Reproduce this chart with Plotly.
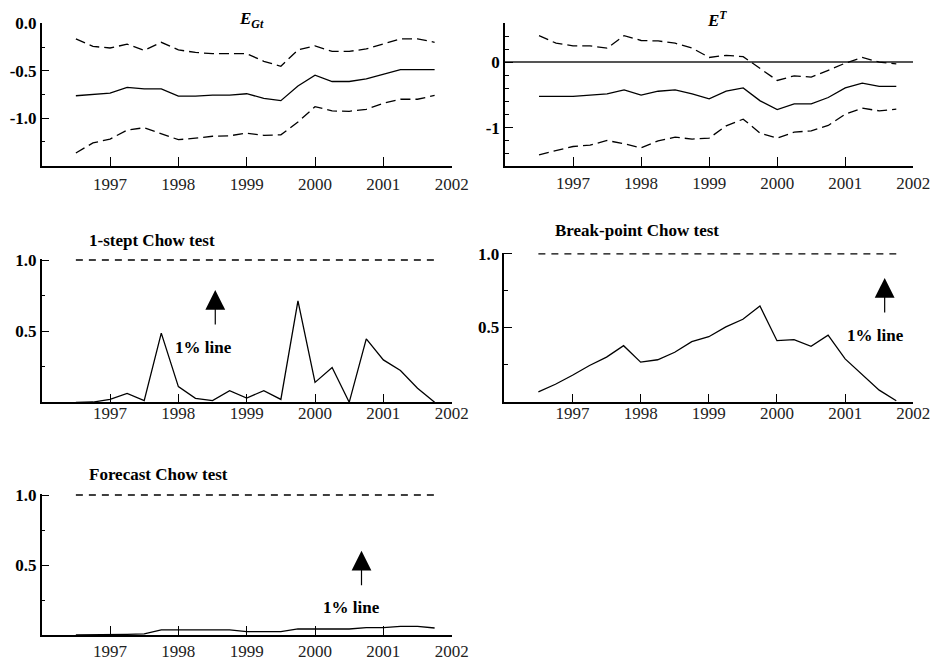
import plotly.graph_objects as go

# ---------------- data ----------------
quarters = [1996.5, 1996.75, 1997.0, 1997.25, 1997.5, 1997.75, 1998.0, 1998.25,
            1998.5, 1998.75, 1999.0, 1999.25, 1999.5, 1999.75, 2000.0, 2000.25,
            2000.5, 2000.75, 2001.0, 2001.25, 2001.5, 2001.75]

egt_mid = [-0.763, -0.75, -0.735, -0.676, -0.69, -0.69, -0.767, -0.767, -0.756, -0.756, -0.742,
           -0.79, -0.815, -0.66, -0.547, -0.613, -0.613, -0.585, -0.537, -0.488, -0.488, -0.488]
egt_up = [-0.164, -0.244, -0.26, -0.22, -0.286, -0.20, -0.28, -0.307, -0.32, -0.32, -0.32,
          -0.40, -0.453, -0.28, -0.237, -0.296, -0.296, -0.27, -0.216, -0.164, -0.164, -0.20]
egt_lo = [-1.366, -1.26, -1.22, -1.125, -1.10, -1.167, -1.226, -1.21, -1.19, -1.185, -1.157,
          -1.18, -1.175, -1.04, -0.878, -0.923, -0.927, -0.906, -0.843, -0.80, -0.80, -0.76]

et_mid = [-0.52, -0.52, -0.52, -0.50, -0.48, -0.42, -0.50, -0.44, -0.42, -0.48, -0.556,
          -0.44, -0.39, -0.587, -0.72, -0.633, -0.633, -0.536, -0.39, -0.316, -0.367, -0.367]
et_up = [0.41, 0.296, 0.255, 0.255, 0.22, 0.41, 0.337, 0.33, 0.296, 0.22, 0.077,
         0.11, 0.09, -0.087, -0.275, -0.204, -0.224, -0.12, -0.01, 0.077, 0.005, -0.02]
et_lo = [-1.413, -1.347, -1.286, -1.265, -1.194, -1.245, -1.306, -1.20, -1.143, -1.173, -1.158,
         -0.97, -0.867, -1.082, -1.158, -1.066, -1.046, -0.964, -0.79, -0.70, -0.74, -0.714]

chow_1step = [0.0, 0.002, 0.02, 0.063, 0.012, 0.486, 0.11, 0.028, 0.012, 0.082, 0.03,
              0.082, 0.02, 0.713, 0.14, 0.244, 0.0, 0.446, 0.298, 0.223, 0.099, 0.0]
chow_breakpoint = [0.06, 0.112, 0.173, 0.24, 0.297, 0.375, 0.263, 0.279, 0.33, 0.402, 0.436,
                   0.503, 0.555, 0.645, 0.409, 0.416, 0.371, 0.447, 0.285, 0.178, 0.072, 0.0]
chow_forecast = [0.0, 0.0, 0.0, 0.005, 0.008, 0.036, 0.036, 0.036, 0.036, 0.036, 0.024,
                 0.024, 0.024, 0.043, 0.043, 0.043, 0.043, 0.052, 0.052, 0.062, 0.062, 0.05]
critical_1pct = [1.0, 1.0]          # 1% critical value (scaled), at first and last quarter

year_ticks = [1997, 1998, 1999, 2000, 2001, 2002]
year_labels = ["1997", "1998", "1999", "2000", "2001", "2002"]

# ---------------- style ----------------
FONT = "Liberation Serif, Times New Roman, Times, serif"
W, H = 940, 660
OFF = 8          # page body margin offset
solid = dict(color="black", width=1.3)
band = dict(color="black", width=1.3, dash="10px,5px")
crit = dict(color="black", width=1.3, dash="7px,6px")

fig = go.Figure()

def add(x, y, line, xa, ya):
    fig.add_trace(go.Scatter(x=x, y=y, mode="lines", line=line, xaxis=xa, yaxis=ya,
                             showlegend=False, hoverinfo="skip"))

# panel 1: E_Gt
add(quarters, egt_up, band, "x", "y")
add(quarters, egt_mid, solid, "x", "y")
add(quarters, egt_lo, band, "x", "y")
# panel 2: E^T
add(quarters, et_up, band, "x2", "y2")
add(quarters, et_mid, solid, "x2", "y2")
add(quarters, et_lo, band, "x2", "y2")
# panel 3: 1-step Chow
add([quarters[0], quarters[-1]], critical_1pct, crit, "x3", "y3")
add(quarters, chow_1step, solid, "x3", "y3")
# panel 4: break-point Chow
add([quarters[0], quarters[-1]], critical_1pct, crit, "x4", "y4")
add(quarters, chow_breakpoint, solid, "x4", "y4")
# panel 5: forecast Chow
add([quarters[0], quarters[-1]], critical_1pct, crit, "x5", "y5")
add(quarters, chow_forecast, solid, "x5", "y5")

def fx(a):
    return (a - OFF) / W

def fy(t):
    return 1 - (t - OFF) / H

def px_x(a, b):
    return [fx(a), fx(b)]

def px_y(top, bottom):
    return [fy(bottom), fy(top)]

def xaxis(domain, anchor, standoff):
    return dict(domain=domain, anchor=anchor, range=[1996, 2002], tickmode="array",
                tickvals=year_ticks, ticktext=year_labels, ticks="inside", ticklen=9,
                tickwidth=1.3, tickcolor="black", showline=True, linecolor="black",
                linewidth=1.5, showgrid=False, zeroline=False, automargin=False,
                ticklabelstandoff=standoff,
                tickfont=dict(family=FONT, size=17, color="#222"))

def yaxis(domain, anchor, rng, tv, tt, minor_vals):
    return dict(domain=domain, anchor=anchor, range=rng, tickmode="array",
                tickvals=tv, ticktext=tt, ticks="inside", ticklen=8, tickwidth=1.3,
                tickcolor="black", showline=True, linecolor="black", linewidth=1.5,
                showgrid=False, zeroline=False, automargin=False,
                minor=dict(tickmode="array", tickvals=minor_vals, ticks="inside",
                           ticklen=4, tickwidth=1.2, tickcolor="black", showgrid=False),
                tickfont=dict(family=FONT, size=17, color="black", weight="bold"))

LX = px_x(41.7, 451.7)
RX = px_x(505, 913.3)

layout = dict(
    template="none",
    width=W, height=H, autosize=False,
    margin=dict(l=0, r=0, t=0, b=0, pad=0),
    paper_bgcolor="white", plot_bgcolor="white",
    showlegend=False,
    xaxis=xaxis(LX, "y", 2),
    yaxis=yaxis(px_y(23.3, 165.7), "x", [-1.5, 0.0],
                [-1.0, -0.5, 0.0], ["-1.0", "-0.5", "0.0"], [-1.25, -0.75, -0.25]),
    xaxis2=xaxis(RX, "y2", 1),
    yaxis2=yaxis(px_y(23.3, 165.7), "x2", [-1.58, 0.6],
                 [-1.0, 0.0], ["-1", "0"],
                 [-1.4, -1.2, -0.8, -0.6, -0.4, -0.2, 0.2, 0.4, 0.6]),
    xaxis3=xaxis(LX, "y3", -5),
    yaxis3=yaxis(px_y(258.6, 402.3), "x3", [0, 1.01], [0.5, 1.0], ["0.5", "1.0"], [0.25, 0.75]),
    xaxis4=xaxis(px_x(504.3, 913.3), "y4", -5),
    yaxis4=yaxis(px_y(252.5, 402.3), "x4", [-0.011, 1.01], [0.5, 1.0], ["0.5", "1.0"], [0.25, 0.75]),
    xaxis5=xaxis(LX, "y5", 0),
    yaxis5=yaxis(px_y(493.6, 635), "x5", [0, 1.01], [0.5, 1.0], ["0.5", "1.0"], [0.25, 0.75]),
)
layout["yaxis2"].update(zeroline=True, zerolinecolor="#555", zerolinewidth=1.5)
fig.update_layout(**layout)

title_font = dict(family=FONT, size=17, color="black", weight="bold")
ann = []
ann.append(dict(text="<i>E<sub>Gt</sub></i>", x=fx(251), y=fy(20), xref="paper", yref="paper",
                xanchor="center", yanchor="middle", showarrow=False, font=title_font))
ann.append(dict(text="<i>E<sup>T</sup></i>", x=fx(717), y=fy(19), xref="paper", yref="paper",
                xanchor="center", yanchor="middle", showarrow=False, font=title_font))
ann.append(dict(text="1-stept Chow test", x=fx(87), y=fy(240), xref="paper", yref="paper",
                xanchor="left", yanchor="middle", showarrow=False, font=title_font))
ann.append(dict(text="Break-point Chow test", x=fx(553), y=fy(230), xref="paper", yref="paper",
                xanchor="left", yanchor="middle", showarrow=False, font=title_font))
ann.append(dict(text="Forecast Chow test", x=fx(87), y=fy(475), xref="paper", yref="paper",
                xanchor="left", yanchor="middle", showarrow=False, font=title_font))

arrow_specs = [("x3", "y3", 1998.54, 0.789, 1998.37, 0.382),
               ("x4", "y4", 2001.58, 0.836, 2001.44, 0.441),
               ("x5", "y5", 2000.68, 0.602, 2000.53, 0.195)]
for xr, yr, tx, ty, lx, ly in arrow_specs:
    ann.append(dict(text="", x=tx, y=ty, xref=xr, yref=yr, ax=0, ay=36, axref="pixel", ayref="pixel",
                    showarrow=True, arrowhead=2, arrowsize=3.3, arrowwidth=1.2, arrowcolor="black"))
    ann.append(dict(text="1% line", x=lx, y=ly, xref=xr, yref=yr, showarrow=False,
                    xanchor="center", yanchor="middle", font=title_font))
fig.update_layout(annotations=ann)

fig.write_html("out.html")
